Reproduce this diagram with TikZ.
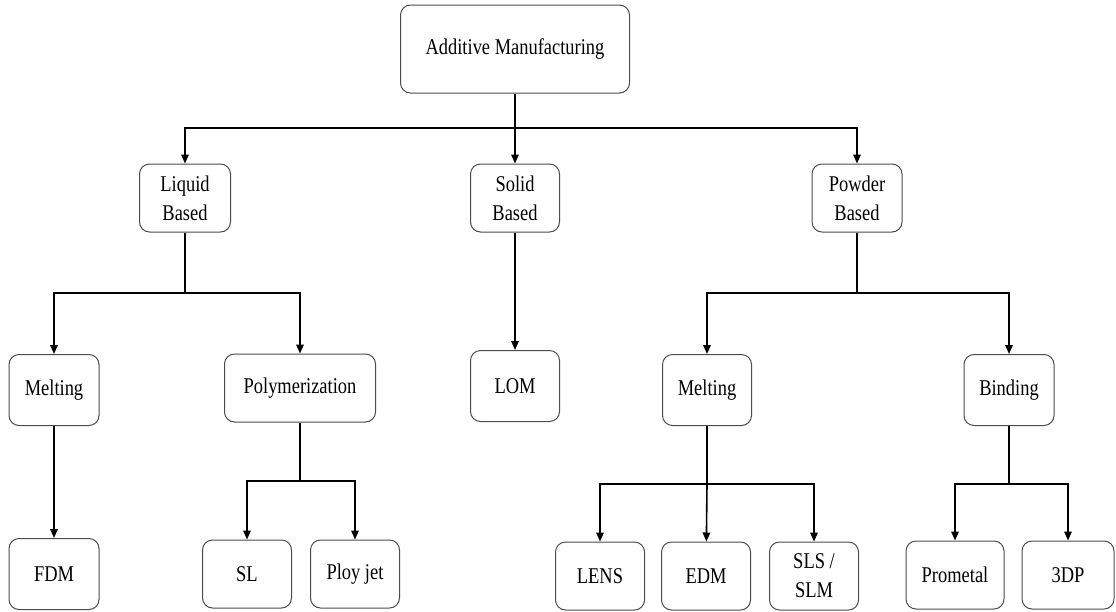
\documentclass[tikz,border=0pt]{standalone}
\usepackage{fontspec}
\setmainfont{Liberation Serif}[FakeStretch=0.82]
\usepackage{xcolor}
\usetikzlibrary{arrows.meta}

\begin{document}
\begin{tikzpicture}[x=1pt, y=-1pt,
	box/.style={draw=black!70, line width=1pt, rounded corners=10pt, fill=white, align=center, inner sep=0pt,
		minimum width=89pt, minimum height=68pt, font=\fontsize{22.5}{29}\selectfont},
	link/.style={line width=1.6pt, black},
	arr/.style={link, -{Triangle[length=9pt, width=7.5pt]}}]
	\useasboundingbox (0,0) rectangle (1116,611);
	% nodes
	\node[box, minimum width=229pt, minimum height=88pt] (am) at (515,49) {Additive Manufacturing};
	\node[box, minimum width=91pt] (liquid) at (185,198) {Liquid\\Based};
	\node[box] (solid) at (515,198) {Solid\\Based};
	\node[box, minimum width=90pt] (powder) at (857,198) {Powder\\Based};
	\node[box, minimum width=90pt, minimum height=71pt] (meltL) at (54,390) {Melting};
	\node[box, minimum width=151pt] (poly) at (300,388) {Polymerization};
	\node[box, minimum height=71pt] (lom) at (515,386) {LOM};
	\node[box, minimum height=71pt] (meltR) at (707,390) {Melting};
	\node[box, minimum width=90pt, minimum height=71pt] (bind) at (1009,390) {Binding};
	\node[box, minimum width=90pt, minimum height=71pt] (fdm) at (54,574) {FDM};
	\node[box] (sl) at (247,574) {SL};
	\node[box] (ploy) at (355,574) {Ploy jet};
	\node[box] (lens) at (600,576) {LENS};
	\node[box] (edm) at (706,576) {EDM};
	\node[box] (sls) at (814,576) {SLS /\\SLM};
	\node[box, minimum width=98pt] (prom) at (955,575) {Prometal};
	\node[box, minimum width=92pt] (tdp) at (1068,575) {3DP};
	% junctions
	\coordinate (jam) at (515,128);
	\coordinate (jliquid) at (185,293);
	\coordinate (jpowder) at (857,293);
	\coordinate (jpoly) at (300,481);
	\coordinate (jmelt) at (707,484);
	\coordinate (jbind) at (1009,484);
	% connectors
	\draw[link] (am) -- (jam);
	\draw[arr] (jam) -| (liquid);
	\draw[arr] (jam) -- (solid);
	\draw[arr] (jam) -| (powder);
	\draw[link] (liquid) -- (jliquid);
	\draw[arr] (jliquid) -| (meltL);
	\draw[arr] (jliquid) -| (poly);
	\draw[arr] (solid) -- (lom);
	\draw[link] (powder) -- (jpowder);
	\draw[arr] (jpowder) -| (meltR);
	\draw[arr] (jpowder) -| (bind);
	\draw[arr] (meltL) -- (fdm);
	\draw[link] (poly) -- (jpoly);
	\draw[arr] (jpoly) -| (sl);
	\draw[arr] (jpoly) -| (ploy);
	\draw[link] (meltR) -- (jmelt);
	\draw[arr] (jmelt) -| (lens);
	\draw[arr] (jmelt) -- (edm);
	\draw[arr] (jmelt) -| (sls);
	\draw[link] (bind) -- (jbind);
	\draw[arr] (jbind) -| (prom);
	\draw[arr] (jbind) -| (tdp);
\end{tikzpicture}
\end{document}
